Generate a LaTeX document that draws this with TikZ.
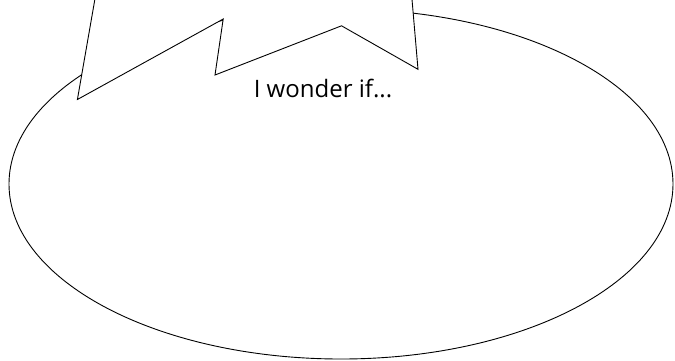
\documentclass[tikz,border=0pt]{standalone}
\usepackage{fontspec}
\setmainfont{Open Sans}
\begin{document}
\begin{tikzpicture}[x=1pt,y=-1pt,
  outline/.style={draw=black,line width=0.9pt,line join=miter},
  label/.style={font=\fontsize{24}{28}\selectfont,inner sep=0pt,anchor=base}]
\useasboundingbox (0,0) rectangle (675,360);
\clip (0,0) rectangle (675,360);
\fill[white] (0,0) rectangle (675,360);
\draw[outline] (341,184) ellipse [x radius=332, y radius=175];
\filldraw[outline,fill=white] (96.5,-10) -- (77.4,99.5) -- (223.2,19) -- (215,75)
  -- (341.5,25.8) -- (418,69.3) -- (411.2,-10) -- cycle;
\node[label] (t) at (323,97) {I wonder if...};
\end{tikzpicture}
\end{document}
